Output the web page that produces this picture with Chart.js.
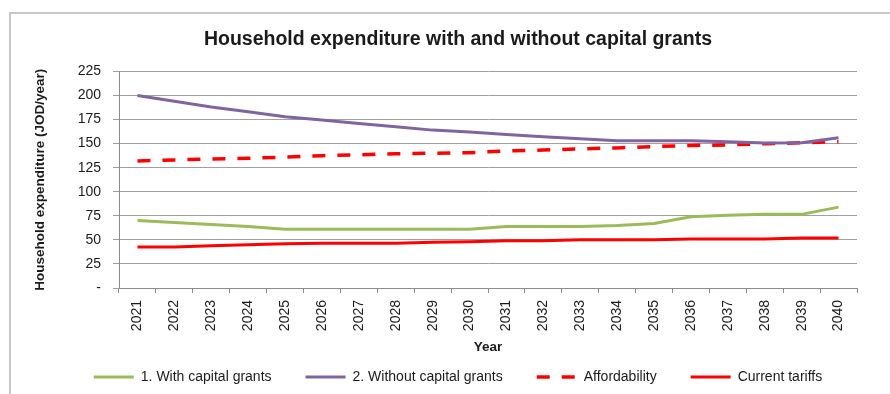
<!DOCTYPE html>
<html>
<head>
<meta charset="utf-8">
<script src="https://cdn.jsdelivr.net/npm/chart.js@4.4.1/dist/chart.umd.min.js"></script>
<style>
  html, body { margin: 0; padding: 0; overflow: hidden; background: #fff; }
  #wrap { position: relative; width: 890px; height: 394px; }
  #frame { position: absolute; left: 9px; top: 12px; width: 900px; height: 400px; border: 2px solid #c8c8c8; }
  #myChart { position: absolute; left: 0; top: 0; }
</style>
</head>
<body>
<div id="wrap">
  <div id="frame"></div>
  <canvas id="myChart" width="890" height="394"></canvas>
</div>
<script>
const years = ['2021','2022','2023','2024','2025','2026','2027','2028','2029','2030',
               '2031','2032','2033','2034','2035','2036','2037','2038','2039','2040'];

const withGrants    = [70, 68, 66, 64, 61, 61, 61, 61, 61, 61, 64, 64, 64, 65, 67, 74, 75.5, 76.5, 76.5, 84];
const withoutGrants = [200, 194, 188, 183, 178, 174.5, 171, 167.5, 164, 162, 159.5, 157, 155, 153, 153, 153, 152, 150.7, 151, 156];
const affordability = [132, 133, 134, 134.7, 136, 137.5, 138.4, 139.4, 140, 140.6, 142.3, 143.3, 144.5, 145.5, 147, 148, 148.7, 149.8, 150.8, 152];
const currentTariffs = [42.5, 42.5, 44, 45, 46, 46.5, 46.5, 46.5, 47.5, 48, 49, 49, 50, 50, 50, 51, 51, 51, 52, 52];

const yTicks = [0, 25, 50, 75, 100, 125, 150, 175, 200, 225];

const FONT = "'Liberation Sans', Arial, sans-serif";
const TXT = '#1a1a1a';

function serie(label, data, color, width, dash) {
    return {
        label: label,
        data: data,
        borderColor: color,
        backgroundColor: color,
        borderWidth: width,
        borderDash: dash || [],
        pointRadius: 0,
        pointHoverRadius: 0,
        pointStyle: 'line',
        tension: 0,
        fill: false
    };
}

// legend entries drawn as short lines carrying each dataset's own dash and width
function legendLines(chart) {
    const items = Chart.defaults.plugins.legend.labels.generateLabels(chart);
    items.forEach(item => {
        const ds = chart.data.datasets[item.datasetIndex];
        item.lineDash = ds.borderDash;
        item.lineWidth = ds.borderWidth;
        item.strokeStyle = ds.borderColor;
        item.fillStyle = ds.borderColor;
        item.pointStyle = 'line';
    });
    return items;
}

const ctx = document.getElementById('myChart');

new Chart(ctx, {
    type: 'line',
    data: {
        labels: years,
        datasets: [
            serie('1. With capital grants', withGrants, '#9bbb59', 3),
            serie('2. Without capital grants', withoutGrants, '#8064a2', 3),
            serie('Affordability', affordability, '#ff0000', 3.5, [13, 12]),
            serie('Current tariffs', currentTariffs, '#ff0000', 3)
        ]
    },
    options: {
        responsive: false,
        animation: false,
        layout: { padding: { left: 26, right: 0, top: 0, bottom: 0 } },
        plugins: {
            tooltip: { enabled: false },
            title: {
                display: true,
                text: 'Household expenditure with and without capital grants',
                color: TXT,
                font: { family: FONT, size: 19.5, weight: 'bold' },
                padding: { top: 28, bottom: 20 }
            },
            legend: {
                position: 'bottom',
                labels: {
                    color: TXT,
                    font: { family: FONT, size: 14 },
                    usePointStyle: true,
                    pointStyle: 'line',
                    pointStyleWidth: 40,
                    padding: 34,
                    generateLabels: legendLines
                }
            }
        },
        scales: {
            x: {
                offset: true,
                grid: { offset: true, drawOnChartArea: false, drawTicks: true, tickLength: 5, color: '#8c8c8c' },
                border: { color: '#8c8c8c', width: 1 },
                ticks: {
                    color: TXT,
                    font: { family: FONT, size: 14 },
                    minRotation: 90,
                    maxRotation: 90,
                    padding: 7,
                    autoSkip: false
                },
                title: {
                    display: true,
                    text: 'Year',
                    color: TXT,
                    font: { family: FONT, size: 13.5, weight: 'bold' },
                    padding: { top: 0, bottom: -19 }
                },
                afterFit: (scale) => { scale.height = 48; }
            },
            y: {
                min: 0,
                max: 225,
                afterBuildTicks: (scale) => { scale.ticks = yTicks.map(v => ({ value: v })); },
                grid: { color: '#a0a0a0', lineWidth: 1, drawTicks: true, tickLength: 6 },
                border: { color: '#8c8c8c', width: 1 },
                ticks: {
                    color: TXT,
                    font: { family: FONT, size: 14 },
                    padding: 12,
                    callback: (v) => v === 0 ? '-' : v
                },
                title: {
                    display: true,
                    text: 'Household expenditure (JOD/year)',
                    color: TXT,
                    font: { family: FONT, size: 13.5, weight: 'bold' },
                    padding: { top: 6, bottom: 0 }
                },
                afterFit: (scale) => { scale.width = 93; }
            },
            // empty right-hand strip so the plot stops short of the frame edge
            spacer: {
                position: 'right',
                display: true,
                grid: { display: false, drawTicks: false },
                border: { display: false },
                ticks: { display: false },
                afterFit: (scale) => { scale.width = 33; }
            }
        }
    }
});
</script>
</body>
</html>
